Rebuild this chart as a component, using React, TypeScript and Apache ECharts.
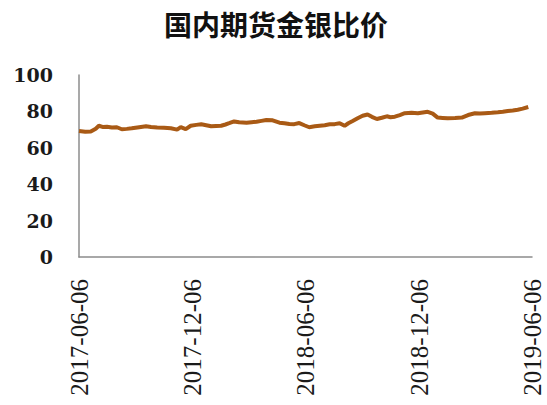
import React, { useEffect, useRef } from "react";
import * as echarts from "echarts";

const TITLE = "国内期货金银比价";

const dates: string[] = [
  "2017-06-06", "2017-06-16", "2017-06-25", "2017-07-03", "2017-07-08", "2017-07-15",
  "2017-07-21", "2017-07-29", "2017-08-06", "2017-08-14", "2017-08-22", "2017-08-30",
  "2017-09-11", "2017-09-22", "2017-09-30", "2017-10-10", "2017-10-21", "2017-11-01",
  "2017-11-11", "2017-11-17", "2017-11-25", "2017-12-03", "2017-12-12", "2017-12-20",
  "2017-12-28", "2018-01-05", "2018-01-13", "2018-01-21", "2018-01-28", "2018-02-03",
  "2018-02-11", "2018-02-19", "2018-03-03", "2018-03-11", "2018-03-19", "2018-03-27",
  "2018-04-04", "2018-04-14", "2018-04-25", "2018-05-03", "2018-05-11", "2018-05-19",
  "2018-05-27", "2018-06-04", "2018-06-12", "2018-06-21", "2018-06-29", "2018-07-07",
  "2018-07-15", "2018-07-23", "2018-07-31", "2018-08-08", "2018-08-14", "2018-08-21",
  "2018-08-29", "2018-09-06", "2018-09-14", "2018-09-21", "2018-09-29", "2018-10-07",
  "2018-10-15", "2018-10-21", "2018-10-28", "2018-11-05", "2018-11-13", "2018-11-24",
  "2018-12-04", "2018-12-12", "2018-12-20", "2018-12-28", "2019-01-05", "2019-01-13",
  "2019-01-21", "2019-02-02", "2019-02-13", "2019-02-23", "2019-03-06", "2019-03-14",
  "2019-03-22", "2019-04-02", "2019-04-12", "2019-04-20", "2019-04-28", "2019-05-06",
  "2019-05-14", "2019-05-22", "2019-05-31",
];

const ratio: number[] = [
  69.2, 68.8, 69.0, 70.5, 72.1, 71.4,
  71.6, 71.2, 71.3, 70.2, 70.4, 70.7,
  71.3, 71.8, 71.4, 71.1, 71.0, 70.7,
  70.0, 71.4, 70.3, 72.1, 72.6, 72.9,
  72.4, 71.8, 72.0, 72.1, 72.8, 73.5,
  74.5, 74.0, 73.8, 74.1, 74.3, 74.8,
  75.3, 75.1, 73.8, 73.5, 73.1, 73.0,
  73.6, 72.4, 71.3, 71.8, 72.1, 72.4,
  72.9, 73.0, 73.5, 72.1, 73.5, 74.7,
  76.2, 77.6, 78.3, 77.0, 75.8, 76.5,
  77.3, 76.8, 77.1, 78.0, 79.0, 79.2,
  79.0, 79.4, 79.8, 78.8, 76.6, 76.4,
  76.2, 76.4, 76.6, 78.0, 79.0, 78.8,
  79.0, 79.2, 79.5, 79.8, 80.2, 80.5,
  80.9, 81.5, 82.4,
];

const xTickLabels: string[] = ["2017-06-06", "2017-12-06", "2018-06-06", "2018-12-06", "2019-06-06"];
const yTicks: number[] = [0, 20, 40, 60, 80, 100];

function toTs(s: string): number {
  const [y, m, d] = s.split("-").map(Number);
  return new Date(y, m - 1, d).getTime();
}
function pad(n: number): string {
  return n < 10 ? "0" + n : String(n);
}
function fmt(ts: number): string {
  const d = new Date(ts);
  return d.getFullYear() + "-" + pad(d.getMonth() + 1) + "-" + pad(d.getDate());
}

export default function App() {
  const ref = useRef<HTMLDivElement>(null);
  useEffect(() => {
    if (!ref.current) return;
    const chart = echarts.init(ref.current, undefined, { renderer: "svg" });
    const xTicks = xTickLabels.map(toTs);
    chart.setOption({
      animation: false,
      backgroundColor: "#ffffff",
      graphic: [
        {
          type: "text",
          x: 276,
          y: 24,
          style: {
            text: TITLE,
            fill: "#111111",
            font: "bold 28px 'Noto Sans CJK SC'",
            textAlign: "center",
            textVerticalAlign: "middle",
          },
        },
      ],
      grid: { left: 79, right: 15, top: 75, bottom: 148, containLabel: false },
      xAxis: {
        type: "value",
        min: xTicks[0],
        max: xTicks[xTicks.length - 1],
        axisLine: { show: true, lineStyle: { color: "#8c8c8c", width: 1.5 } },
        axisTick: { show: false },
        splitLine: { show: false },
        axisLabel: {
          customValues: xTicks,
          rotate: 90,
          margin: 22,
          color: "#1a1a1a",
          fontFamily: "'Liberation Serif'",
          fontSize: 25,
          formatter: (v: number) => fmt(v),
          hideOverlap: false,
        },
      },
      yAxis: {
        type: "value",
        min: yTicks[0],
        max: yTicks[yTicks.length - 1],
        interval: 20,
        axisLine: { show: true, lineStyle: { color: "#8c8c8c", width: 1.5 } },
        axisTick: { show: false },
        splitLine: { show: false },
        axisLabel: {
          margin: 26,
          color: "#1a1a1a",
          fontFamily: "'DejaVu Serif'",
          fontWeight: "bold",
          fontSize: 19,
        },
      },
      series: [
        {
          type: "line",
          data: dates.map((d, i) => [toTs(d), ratio[i]]),
          showSymbol: false,
          symbol: "none",
          lineStyle: { color: "#a95a15", width: 4 },
          itemStyle: { color: "#a95a15" },
        },
      ],
    });
    return () => chart.dispose();
  }, []);
  return (
    <div
      ref={ref}
      style={{ position: "fixed", left: 0, top: 0, width: 547, height: 405, background: "#fff" }}
    />
  );
}
